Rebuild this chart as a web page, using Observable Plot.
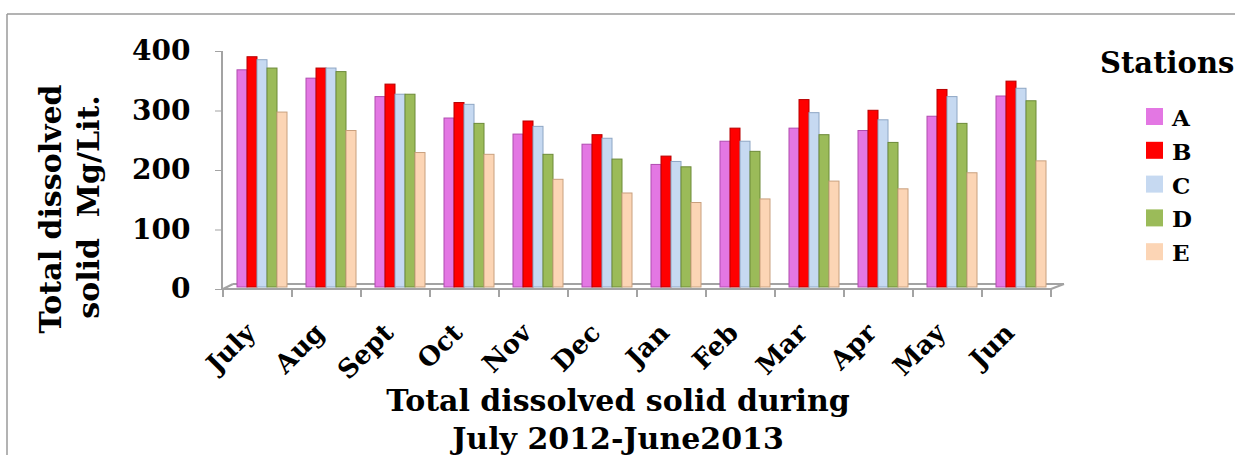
<!DOCTYPE html>
<html>
<head>
<meta charset="utf-8">
<script src="https://cdn.jsdelivr.net/npm/d3@7"></script>
<script src="https://cdn.jsdelivr.net/npm/@observablehq/plot@0.6"></script>
<style>
  html, body { margin: 0; padding: 0; background: #fff; overflow: hidden; }
  #chart { position: relative; width: 1235px; height: 455px; overflow: hidden; }
  #chart svg { width: 1235px; height: 455px; max-width: none; }
</style>
</head>
<body>
<div id="chart"></div>
<script>
// Monthly total dissolved solids (mg/L) at five sampling stations, July 2012 – June 2013
const months = ["July", "Aug", "Sept", "Oct", "Nov", "Dec", "Jan", "Feb", "Mar", "Apr", "May", "Jun"];
const stations = ["A", "B", "C", "D", "E"];
const stationA = [365, 351, 320, 284, 257, 240, 206, 245, 267, 263, 287, 321];
const stationB = [387, 368, 341, 310, 279, 256, 220, 267, 315, 297, 332, 346];
const stationC = [382, 368, 324, 307, 270, 250, 211, 245, 293, 281, 320, 334];
const stationD = [368, 362, 324, 275, 223, 215, 202, 228, 256, 243, 275, 313];
const stationE = [294, 263, 226, 223, 181, 158, 142, 148, 178, 165, 192, 212];
const yTicks = [0, 100, 200, 300, 400];

const stationColors = ["#e377e3", "#ff0000", "#c6d9f1", "#9bbb59", "#fcd5b5"];
const stationEdges = ["#b04cb0", "#b80000", "#8ea6c4", "#6c8a38", "#c9a07e"];

const series = [stationA, stationB, stationC, stationD, stationE];
const rows = months.flatMap((m, i) =>
  stations.map((s, j) => ({ month: m, station: s, value: series[j][i] }))
);

const FONT = "DejaVu Serif";
const GRAY = "#a3a3a3";

const chart = Plot.plot({
  width: 1235,
  height: 455,
  marginLeft: 219,
  marginRight: 181,
  marginTop: 51,
  marginBottom: 166,
  style: { fontFamily: FONT, fontWeight: "bold", color: "#000", background: "transparent" },
  fx: { domain: months, padding: 0, label: null },
  x: { domain: stations, paddingInner: 0, paddingOuter: 0.66, axis: null },
  y: { domain: [0, 400], label: null },
  color: { domain: stations, range: stationColors },
  marks: [
    Plot.axisY({ ticks: yTicks, tickSize: 8, tickPadding: 25, fontSize: 28, stroke: GRAY, fill: "#000", label: null }),
    Plot.axisFx({ anchor: "bottom", tickSize: 0, tickRotate: -45, tickPadding: 39, fontSize: 26, dx: -7, label: null }),
    Plot.barY(rows, {
      fx: "month", x: "station", y: "value",
      fill: "station",
      stroke: d => stationEdges[stations.indexOf(d.station)],
      strokeWidth: 1,
      dx: 4, dy: -2
    })
  ]
});

document.getElementById("chart").appendChild(chart);

// Decorations drawn from the plot's own scales: floor, axis wall, category ticks
const svg = d3.select(chart);
const fx = chart.scale("fx");
const y = chart.scale("y");
const y0 = y.apply(0);
const yTop = y.apply(400);
const xl = fx.apply(months[0]);
const xr = fx.apply(months[months.length - 1]) + fx.step;
const depthX = 10, depthY = 5;

const deco = svg.insert("g", ":first-child")
  .attr("stroke", GRAY).attr("stroke-width", 2).attr("fill", "none");
// chart border (top and left edges fall inside the page)
deco.append("line").attr("x1", 7).attr("x2", 1235).attr("y1", 14).attr("y2", 14)
  .attr("stroke", "#9a9a9a").attr("stroke-width", 1.5);
deco.append("line").attr("x1", 7).attr("x2", 7).attr("y1", 14).attr("y2", 455)
  .attr("stroke", "#9a9a9a").attr("stroke-width", 1.5);
// value axis line
deco.append("line").attr("x1", xl - 1).attr("x2", xl - 1).attr("y1", yTop).attr("y2", y0);
// floor
deco.append("line").attr("x1", xl).attr("x2", xr).attr("y1", y0).attr("y2", y0);
deco.append("line").attr("x1", xl + depthX).attr("x2", xr + depthX + 3).attr("y1", y0 - depthY).attr("y2", y0 - depthY);
deco.append("line").attr("x1", xl).attr("x2", xl + depthX).attr("y1", y0).attr("y2", y0 - depthY);
deco.append("line").attr("x1", xr).attr("x2", xr + depthX + 3).attr("y1", y0).attr("y2", y0 - depthY);
// category boundary ticks
const bounds = months.map(m => fx.apply(m)).concat([xr]);
deco.selectAll("line.cat").data(bounds).join("line").attr("class", "cat")
  .attr("x1", d => d).attr("x2", d => d).attr("y1", y0).attr("y2", y0 + 8);

// Titles and legend
const txt = svg.append("g").attr("font-family", FONT).attr("font-weight", "bold")
  .attr("fill", "#000").attr("text-anchor", "start");
txt.append("text").attr("transform", "translate(61,209) rotate(-90)")
  .attr("text-anchor", "middle").attr("font-size", 30).text("Total dissolved");
txt.append("text").attr("transform", "translate(99,207) rotate(-90)")
  .attr("text-anchor", "middle").attr("font-size", 30).attr("xml:space", "preserve")
  .style("white-space", "pre").text("solid  Mg/Lit.");
txt.append("text").attr("x", 618).attr("y", 411).attr("text-anchor", "middle")
  .attr("font-size", 30).text("Total dissolved solid during");
txt.append("text").attr("x", 618).attr("y", 449).attr("text-anchor", "middle")
  .attr("font-size", 30).text("July 2012-June2013");

txt.append("text").attr("x", 1100).attr("y", 73).attr("font-size", 29).text("Stations");
const leg = txt.selectAll("g.leg").data(stations).join("g").attr("class", "leg")
  .attr("transform", (d, i) => `translate(0,${126 + i * 33.8})`);
leg.append("rect").attr("x", 1146).attr("y", -18).attr("width", 17).attr("height", 17)
  .attr("fill", (d, i) => stationColors[i]);
leg.append("text").attr("x", 1172).attr("y", 0).attr("font-size", 23).text(d => d);
</script>
</body>
</html>
